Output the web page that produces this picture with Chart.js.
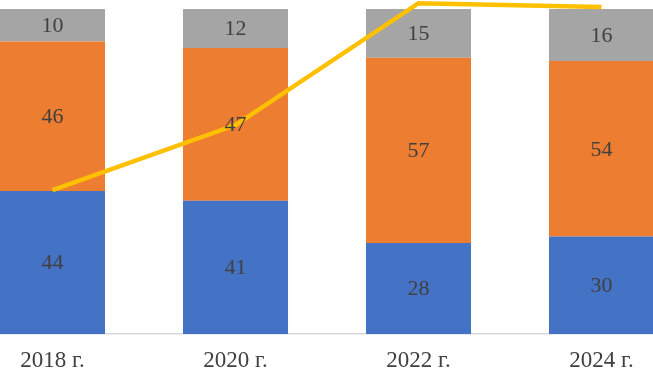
<!DOCTYPE html>
<html>
<head>
<meta charset="utf-8">
<script src="https://cdn.jsdelivr.net/npm/chart.js@4"></script>
<style>
  html, body { margin: 0; padding: 0; background: #fff; overflow: hidden; }
  #wrap { position: absolute; left: -39.5px; top: 0; width: 732px; height: 371px; }
</style>
</head>
<body>
<div id="wrap"><canvas id="chart"></canvas></div>
<script>
// Data
const years = ['2018 г.', '2020 г.', '2022 г.', '2024 г.'];
const lowerPart = [44, 41, 28, 30];
const middlePart = [46, 47, 57, 54];
const upperPart = [10, 12, 15, 16];
const trendLine = [44.3, 64.3, 101.8, 100.6];

const labelFont = '"Liberation Serif", "Times New Roman", serif';

// draw the numbers inside each bar segment
const segmentLabels = {
    id: 'segmentLabels',
    afterDatasetsDraw(chart) {
        const ctx = chart.ctx;
        ctx.save();
        ctx.font = '22px ' + labelFont;
        ctx.fillStyle = '#404040';
        ctx.textAlign = 'center';
        ctx.textBaseline = 'middle';
        chart.data.datasets.forEach((ds, i) => {
            if (ds.type === 'line') return;
            chart.getDatasetMeta(i).data.forEach((bar, j) => {
                const y = (bar.y + bar.base) / 2;
                ctx.fillText(ds.data[j], bar.x, y + 1);
            });
        });
        ctx.restore();
    }
};

new Chart(document.getElementById('chart').getContext('2d'), {
    data: {
        labels: years,
        datasets: [
            {
                type: 'line',
                data: trendLine,
                yAxisID: 'y2',
                borderColor: '#FFC000',
                borderWidth: 4.5,
                pointRadius: 0,
                tension: 0,
                clip: false,
                order: 0
            },
            { type: 'bar', data: lowerPart, backgroundColor: '#4472C4', order: 1 },
            { type: 'bar', data: middlePart, backgroundColor: '#ED7D31', order: 1 },
            { type: 'bar', data: upperPart, backgroundColor: '#A5A5A5', order: 1 }
        ]
    },
    options: {
        responsive: true,
        maintainAspectRatio: false,
        animation: false,
        layout: { padding: { top: 9, left: 0, right: 0, bottom: 0 } },
        datasets: {
            bar: { categoryPercentage: 1, barPercentage: 0.574 }
        },
        scales: {
            x: {
                stacked: true,
                grid: { display: false, drawTicks: false },
                border: { display: true, color: '#d9d9d9', width: 1.5 },
                ticks: {
                    color: '#404040',
                    padding: 13,
                    font: { family: labelFont, size: 23 }
                },
                afterFit(scale) { scale.height = 37; }
            },
            y: {
                stacked: true,
                display: false,
                min: 0,
                max: 100
            },
            y2: {
                display: false,
                min: 0,
                max: 100
            }
        },
        plugins: {
            legend: { display: false },
            tooltip: { enabled: false }
        }
    },
    plugins: [segmentLabels]
});
</script>
</body>
</html>
